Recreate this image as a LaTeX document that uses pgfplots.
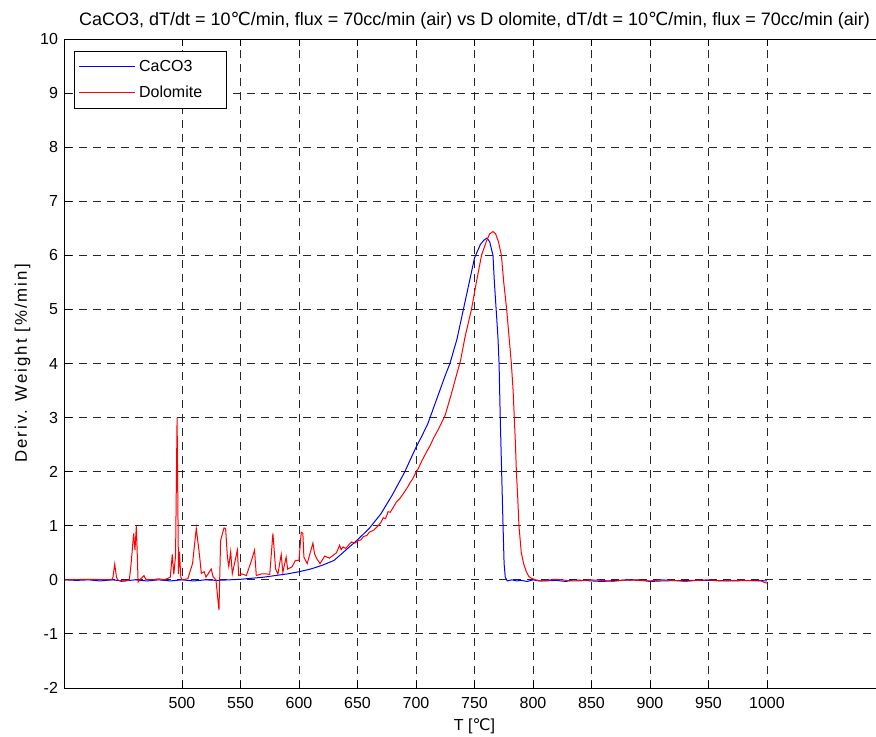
\documentclass[border=0pt]{standalone}
\usepackage{pgfplots}
\pgfplotsset{compat=1.18}
\usepackage{fontspec}
\setmainfont{Liberation Sans}
\newfontfamily\dejavu{DejaVu Sans}
\newfontfamily\spaced[LetterSpace=12]{Liberation Sans}
\newcommand{\degC}{{\dejavu ℃}}

% derivative weight curves, T in deg C, w in %/min
\pgfplotstableread{
T w
400 0
410 -0.01
420 0
430 -0.02
440 0
450 -0.02
460 0
470 -0.02
480 0
490 -0.02
500 0
510 -0.02
520 0
530 -0.01
540 0
550 0.01
560 0.03
570 0.05
580 0.08
590 0.11
600 0.15
610 0.20
620 0.27
630 0.36
640 0.55
650 0.74
660 0.95
670 1.22
680 1.58
690 1.98
700 2.45
705 2.66
710 2.88
712 3.0
715 3.18
720 3.48
725 3.78
729 4.0
735 4.45
740 4.95
745 5.45
750 5.95
755 6.20
758 6.28
760.7 6.32
763 6.25
765.8 6.0
767 5.5
768.5 5.0
770 4.5
771 4.0
772 3.0
773.2 2.0
774.4 1.0
775.3 0.3
776.3 0.05
778 -0.02
782 0
786 -0.02
790 -0.01
795 -0.03
800 0
805 -0.02
810 -0.02
820 -0.01
828 -0.03
835 0
850 -0.02
860 -0.03
870 -0.01
890 0
900 -0.03
910 -0.02
930 -0.01
950 -0.01
970 -0.02
990 -0.01
1000 -0.02
}\caco

\pgfplotstableread{
T w
400 0
420 0.01
440 0
441 0.05
442.5 0.29
444 0.05
445 0
448 -0.03
452 -0.02
455 0
456.5 0.3
458.7 0.86
459.8 0.55
461 1.0
462.5 -0.04
464 0
467.5 0.08
469 0.01
475 0
480 0.02
485 0
490 0.05
491.7 0.47
493 0.1
494.5 0.45
495.8 3.0
497 0.11
497.8 0.52
499 0.05
500 0
505 0.02
509 0.3
512.2 0.95
515 0.45
516.5 0.12
519 0.15
520.5 0.05
525 0.2
526.5 0.06
529 0
531.6 -0.56
533 0.73
535.9 0.96
537.3 0.95
538.8 0.42
540 0.25
541.6 0.52
543 0.11
547.3 0.55
548.5 0.08
551 0.11
555 0.08
559 0.33
562 0.55
563.5 0.08
568 0.11
572 0.11
575 0.1
577.7 0.86
580 0.2
582 0.11
584.8 0.47
586.2 0.14
589 0.42
590.3 0.2
594 0.24
597 0.36
600 0.36
601.9 0.88
603.3 0.86
604.2 0.42
607 0.3
611.9 0.68
613.3 0.48
615 0.4
618 0.3
622 0.44
626 0.40
629 0.45
632 0.50
634.7 0.64
636 0.56
637.7 0.61
640 0.58
643 0.66
645 0.7
648 0.68
650 0.72
653 0.74
655 0.80
658 0.82
660 0.88
664 0.92
667.6 1.0
670 1.06
672 1.15
674 1.13
676.1 1.26
678 1.25
680 1.32
683.3 1.44
686 1.50
690 1.62
693 1.72
695 1.80
697 1.86
699.8 1.98
702 2.06
705 2.2
708.9 2.36
712 2.48
715 2.62
718 2.74
720 2.82
725 3.05
730 3.42
735 3.82
738 4.05
742 4.5
747.4 5.0
752 5.55
756 6.0
760 6.25
763 6.4
765.8 6.44
768 6.4
770.5 6.25
773 6.0
775 5.5
777.5 5.0
779.5 4.5
781.5 4.0
783 3.5
784 3.0
785 2.5
785.8 2.0
787 1.5
788 1.0
790 0.5
792 0.3
794.3 0.15
796.5 0.06
798.6 0.03
802 0
807 -0.02
812 -0.01
818 0.01
825 0
832 -0.02
840 -0.02
848 0
860 -0.01
868 -0.03
880 0
890 -0.01
900 -0.02
910 0
920 -0.01
930 -0.03
940 -0.01
950 0
960 -0.02
970 -0.01
980 -0.01
990 -0.02
995 -0.02
998 -0.05
1000 -0.06
}\dolomite

\begin{document}
\begin{tikzpicture}
\useasboundingbox (-32.5pt,-24pt) rectangle (405.5pt,344pt);
\begin{axis}[
  at={(0pt,0pt)}, anchor=south west,
  scale only axis,
  width=409.5pt, height=324.5pt,
  xmin=400, xmax=1100, ymin=-2, ymax=10,
  xtick={500,550,...,1000},
  ytick={-2,-1,...,10},
  /pgf/number format/assume math mode=true,
  /pgf/number format/1000 sep={},
  tick align=inside,
  major tick length=3.5pt,
  tick style={black, line width=0.5pt},
  axis line style={black, line width=0.5pt},
  grid=major,
  major grid style={black!85, line width=0.5pt, dash pattern=on 4pt off 3pt},
  font=\fontsize{8}{9.6}\selectfont,
  ticklabel style={font=\fontsize{8}{9.6}\selectfont},
  xticklabel style={yshift=-1pt},
  title={CaCO3, dT/dt = 10\degC/min, flux = 70cc/min (air) vs D olomite, dT/dt = 10\degC/min, flux = 70cc/min (air)},
  title style={font=\fontsize{9}{10.8}\selectfont, yshift=-4.5pt},
  xlabel={T [\degC]},
  ylabel={\spaced Deriv. Weight [\%/min]},
  xlabel style={yshift=2pt},
  ylabel style={yshift=-2pt, font=\fontsize{8.4}{10}\selectfont},
  legend cell align=left,
  legend style={at={(axis description cs:0,1)}, anchor=north west,
    xshift=4.5pt, yshift=-6pt, draw=black, line width=0.5pt,
    inner xsep=2pt, inner ysep=1.6pt, row sep=0.8pt,
    nodes={inner sep=1.8pt, text width=40pt, text height=6.6pt, text depth=2pt}},
  legend image code/.code={\draw[#1] (0pt,0pt) -- (28pt,0pt);},
]
\addplot[blue, line width=0.5pt] table[x=T, y=w] {\caco};
\addlegendentry{CaCO3}
\addplot[red, line width=0.5pt] table[x=T, y=w] {\dolomite};
\addlegendentry{Dolomite}
\end{axis}
\end{tikzpicture}
\end{document}
